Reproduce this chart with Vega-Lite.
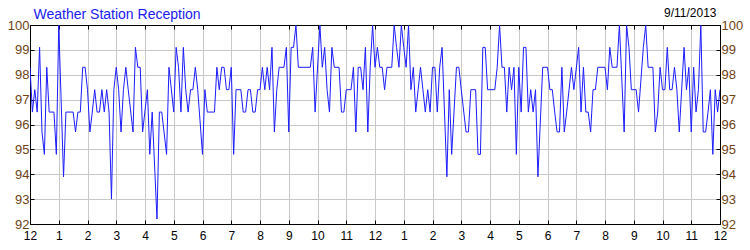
{
  "$schema": "https://vega.github.io/schema/vega-lite/v6.json",
  "width": 690,
  "height": 199,
  "autosize": {"type": "none"},
  "padding": {"left": 30, "top": 25, "right": 30, "bottom": 26},
  "background": "white",
  "config": {
    "view": {"stroke": "black", "strokeWidth": 1},
    "font": "Liberation Sans",
    "axis": {
      "domainColor": "black",
      "tickColor": "black",
      "gridColor": "#c8c8c8",
      "gridOpacity": 1,
      "labelFont": "Liberation Sans",
      "labelFontSize": 12,
      "labelColor": "black",
      "titleFont": "Liberation Sans"
    }
  },
  "data": {"values": [
    {"m":0,"v":98.3},{"m":5,"v":96.5},{"m":10,"v":97.4},{"m":15,"v":96.5},{"m":20,"v":99.1},{"m":25,"v":95.7},{"m":30,"v":94.8},{"m":35,"v":98.3},{"m":40,"v":96.5},{"m":50,"v":96.5},{"m":55,"v":94.8},{"m":60,"v":100},{"m":70,"v":93.9},{"m":75,"v":96.5},{"m":90,"v":96.5},{"m":95,"v":95.7},{"m":100,"v":96.5},{"m":105,"v":96.5},{"m":110,"v":98.3},{"m":115,"v":98.3},{"m":120,"v":97.4},{"m":125,"v":95.7},{"m":130,"v":96.5},{"m":135,"v":97.4},{"m":140,"v":96.5},{"m":145,"v":96.5},{"m":150,"v":97.4},{"m":155,"v":96.5},{"m":160,"v":97.4},{"m":165,"v":96.5},{"m":170,"v":93.0},{"m":175,"v":97.4},{"m":180,"v":98.3},{"m":185,"v":97.4},{"m":190,"v":95.7},{"m":195,"v":97.4},{"m":200,"v":98.3},{"m":205,"v":97.4},{"m":215,"v":95.7},{"m":220,"v":99.1},{"m":225,"v":98.3},{"m":230,"v":98.3},{"m":235,"v":95.7},{"m":245,"v":97.4},{"m":250,"v":94.8},{"m":255,"v":96.5},{"m":265,"v":92.2},{"m":270,"v":96.5},{"m":275,"v":96.5},{"m":285,"v":94.8},{"m":290,"v":98.3},{"m":300,"v":96.5},{"m":305,"v":99.1},{"m":310,"v":98.3},{"m":315,"v":96.5},{"m":320,"v":99.1},{"m":325,"v":97.4},{"m":330,"v":96.5},{"m":335,"v":97.4},{"m":340,"v":97.4},{"m":345,"v":98.3},{"m":350,"v":97.4},{"m":360,"v":94.8},{"m":365,"v":97.4},{"m":370,"v":96.5},{"m":385,"v":96.5},{"m":390,"v":98.3},{"m":395,"v":97.4},{"m":400,"v":98.3},{"m":405,"v":98.3},{"m":410,"v":97.4},{"m":415,"v":97.4},{"m":420,"v":98.3},{"m":425,"v":94.8},{"m":430,"v":97.4},{"m":440,"v":97.4},{"m":445,"v":96.5},{"m":450,"v":96.5},{"m":455,"v":97.4},{"m":460,"v":97.4},{"m":465,"v":96.5},{"m":470,"v":96.5},{"m":475,"v":97.4},{"m":480,"v":97.4},{"m":485,"v":98.3},{"m":490,"v":97.4},{"m":495,"v":98.3},{"m":500,"v":97.4},{"m":505,"v":99.1},{"m":510,"v":95.7},{"m":515,"v":97.4},{"m":520,"v":98.3},{"m":530,"v":98.3},{"m":535,"v":99.1},{"m":540,"v":95.7},{"m":545,"v":99.1},{"m":550,"v":99.1},{"m":555,"v":100},{"m":560,"v":98.3},{"m":585,"v":98.3},{"m":590,"v":99.1},{"m":595,"v":96.5},{"m":605,"v":100},{"m":610,"v":98.3},{"m":615,"v":99.1},{"m":620,"v":97.4},{"m":625,"v":96.5},{"m":630,"v":99.1},{"m":635,"v":98.3},{"m":645,"v":98.3},{"m":650,"v":96.5},{"m":655,"v":96.5},{"m":660,"v":97.4},{"m":670,"v":97.4},{"m":675,"v":98.3},{"m":680,"v":95.7},{"m":685,"v":98.3},{"m":690,"v":98.3},{"m":695,"v":97.4},{"m":700,"v":99.1},{"m":705,"v":95.7},{"m":710,"v":98.3},{"m":715,"v":100},{"m":720,"v":98.3},{"m":725,"v":99.1},{"m":730,"v":98.3},{"m":735,"v":98.3},{"m":740,"v":97.4},{"m":745,"v":98.3},{"m":755,"v":98.3},{"m":760,"v":100},{"m":765,"v":99.1},{"m":770,"v":98.3},{"m":775,"v":100},{"m":780,"v":99.1},{"m":785,"v":98.3},{"m":790,"v":100},{"m":795,"v":97.4},{"m":800,"v":98.3},{"m":805,"v":96.5},{"m":810,"v":97.4},{"m":815,"v":98.3},{"m":820,"v":97.4},{"m":825,"v":96.5},{"m":830,"v":97.4},{"m":835,"v":96.5},{"m":840,"v":98.3},{"m":845,"v":98.3},{"m":850,"v":96.5},{"m":855,"v":98.3},{"m":860,"v":99.1},{"m":870,"v":93.9},{"m":875,"v":97.4},{"m":880,"v":94.8},{"m":890,"v":98.3},{"m":895,"v":98.3},{"m":900,"v":97.4},{"m":910,"v":95.7},{"m":915,"v":95.7},{"m":920,"v":97.4},{"m":930,"v":97.4},{"m":935,"v":94.8},{"m":940,"v":94.8},{"m":945,"v":99.1},{"m":950,"v":99.1},{"m":955,"v":97.4},{"m":970,"v":97.4},{"m":975,"v":98.3},{"m":980,"v":100},{"m":985,"v":98.3},{"m":990,"v":98.3},{"m":995,"v":96.5},{"m":1000,"v":98.3},{"m":1005,"v":97.4},{"m":1010,"v":98.3},{"m":1015,"v":94.8},{"m":1020,"v":98.3},{"m":1025,"v":96.5},{"m":1030,"v":99.1},{"m":1035,"v":99.1},{"m":1040,"v":96.5},{"m":1045,"v":97.4},{"m":1050,"v":96.5},{"m":1055,"v":97.4},{"m":1060,"v":93.9},{"m":1070,"v":98.3},{"m":1080,"v":98.3},{"m":1085,"v":97.4},{"m":1090,"v":97.4},{"m":1095,"v":96.5},{"m":1100,"v":95.7},{"m":1105,"v":95.7},{"m":1110,"v":98.3},{"m":1115,"v":95.7},{"m":1120,"v":96.5},{"m":1130,"v":98.3},{"m":1135,"v":97.4},{"m":1145,"v":99.1},{"m":1150,"v":96.5},{"m":1155,"v":98.3},{"m":1160,"v":96.5},{"m":1165,"v":96.5},{"m":1170,"v":95.7},{"m":1175,"v":97.4},{"m":1180,"v":97.4},{"m":1185,"v":98.3},{"m":1200,"v":98.3},{"m":1205,"v":97.4},{"m":1210,"v":99.1},{"m":1215,"v":98.3},{"m":1225,"v":98.3},{"m":1230,"v":100},{"m":1240,"v":95.7},{"m":1245,"v":100},{"m":1250,"v":99.1},{"m":1255,"v":97.4},{"m":1265,"v":97.4},{"m":1270,"v":96.5},{"m":1280,"v":99.1},{"m":1285,"v":100},{"m":1290,"v":98.3},{"m":1300,"v":98.3},{"m":1305,"v":95.7},{"m":1310,"v":96.5},{"m":1315,"v":98.3},{"m":1320,"v":97.4},{"m":1325,"v":97.4},{"m":1330,"v":99.1},{"m":1335,"v":97.4},{"m":1340,"v":97.4},{"m":1345,"v":98.3},{"m":1350,"v":97.4},{"m":1355,"v":95.7},{"m":1365,"v":99.1},{"m":1370,"v":97.4},{"m":1375,"v":98.3},{"m":1380,"v":95.7},{"m":1385,"v":98.3},{"m":1390,"v":96.5},{"m":1395,"v":97.4},{"m":1400,"v":100},{"m":1405,"v":95.7},{"m":1410,"v":95.7},{"m":1415,"v":96.5},{"m":1420,"v":97.4},{"m":1425,"v":94.8},{"m":1430,"v":97.4},{"m":1435,"v":96.5},{"m":1440,"v":97.4}
  ]},
  "layer": [
    {
      "mark": {"type": "line", "color": "#1c1cff", "strokeWidth": 1, "clip": true},
      "encoding": {
        "x": {
          "field": "m", "type": "quantitative",
          "scale": {"domain": [0, 1440], "nice": false, "zero": false},
          "axis": {
            "orient": "bottom", "title": null, "grid": true,
            "values": [0,60,120,180,240,300,360,420,480,540,600,660,720,780,840,900,960,1020,1080,1140,1200,1260,1320,1380,1440],
            "labelExpr": "((datum.value/60 + 11) % 12) + 1",
            "tickSize": -4, "labelPadding": 10, "labelFlush": false, "labelOverlap": false
          }
        },
        "y": {
          "field": "v", "type": "quantitative",
          "scale": {"domain": [92, 100], "nice": false, "zero": false},
          "axis": {
            "orient": "left", "title": null, "grid": true,
            "values": [92,93,94,95,96,97,98,99,100],
            "tickSize": -4, "labelPadding": 5, "labelFontSize": 13, "labelColor": "#704214", "labelFlush": false, "labelOverlap": false
          }
        }
      }
    },
    {
      "mark": {"type": "line", "opacity": 0},
      "encoding": {
        "x": {
          "field": "m", "type": "quantitative",
          "scale": {"domain": [0, 1440], "nice": false, "zero": false},
          "axis": {
            "orient": "top", "grid": false, "labels": false,
            "values": [0,60,120,180,240,300,360,420,480,540,600,660,720,780,840,900,960,1020,1080,1140,1200,1260,1320,1380,1440],
            "tickSize": -4,
            "title": "Weather Station Reception",
            "titleColor": "#2020f0", "titleFontSize": 14, "titleFontWeight": "normal",
            "titleAnchor": "start", "titleAlign": "left", "titleBaseline": "alphabetic",
            "titleX": 3, "titleY": -7
          }
        },
        "y": {
          "field": "v", "type": "quantitative",
          "scale": {"domain": [92, 100], "nice": false, "zero": false},
          "axis": {
            "orient": "right", "grid": false,
            "values": [92,93,94,95,96,97,98,99,100],
            "tickSize": -4, "labelPadding": 5, "labelFontSize": 13, "labelColor": "#704214", "labelFlush": false, "labelOverlap": false,
            "title": "9/11/2013", "titleAngle": 0, "titleColor": "black", "titleFontSize": 12, "titleFontWeight": "normal",
            "titleAlign": "right", "titleBaseline": "alphabetic", "titleX": -4, "titleY": -9
          }
        }
      }
    }
  ],
  "resolve": {"axis": {"x": "independent", "y": "independent"}}
}
